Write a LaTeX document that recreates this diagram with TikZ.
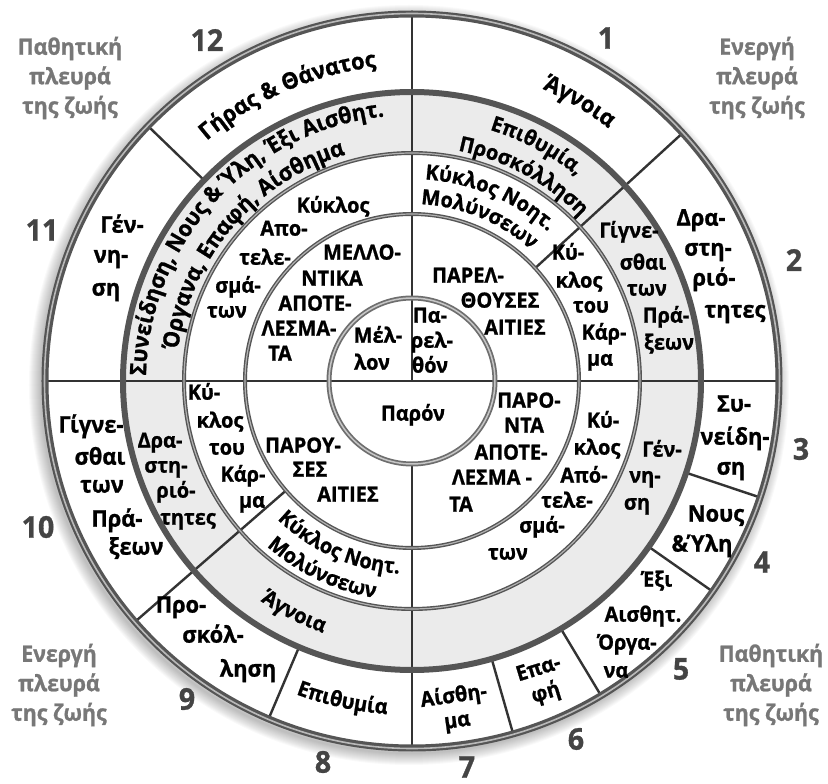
\documentclass[tikz,border=0pt]{standalone}
\usepackage{fontspec}
\setmainfont{Open Sans}[FakeStretch=0.95,BoldFeatures={FakeBold=1}]
\usetikzlibrary{decorations.text}
\definecolor{band}{HTML}{EBEBEB}
\definecolor{ringc}{HTML}{555555}
\definecolor{numc}{HTML}{444444}
\definecolor{sidec}{HTML}{777777}
\definecolor{linec}{HTML}{333333}
\newcommand\fS{\bfseries\fontsize{21}{25}\selectfont}
\newcommand\fM{\bfseries\fontsize{22.5}{26}\selectfont}
\newcommand\fL{\bfseries\fontsize{23}{27}\selectfont}
\newcounter{tlc}
\newcommand\Tline[4][txt]{\stepcounter{tlc}\node[#1] (tl\arabic{tlc}) at (#2,#3) {#4};}
% curved text, upper half (clockwise): center angle, baseline radius, font, text
\newcommand\Cup[4]{\path[decorate,decoration={text along path,text={|#3|#4},text align=center}]
  ({#1+60}:#2) arc[start angle={#1+60},end angle={#1-60},radius=#2];}
% curved text, lower half (counter-clockwise)
\newcommand\Cdn[4]{\path[decorate,decoration={text along path,text={|#3|#4},text align=center}]
  ({#1-60}:#2) arc[start angle={#1-60},end angle={#1+60},radius=#2];}
\begin{document}
\begin{tikzpicture}[x=1pt,y=1pt,
  txt/.style={font=\fS,anchor=mid,inner sep=0pt},
  txtL/.style={font=\fL,anchor=mid,inner sep=0pt},
  num/.style={font=\bfseries\fontsize{30}{30}\selectfont,text=numc,inner sep=0pt},
  side/.style={font=\bfseries\fontsize{22.5}{29.5}\selectfont,text=sidec,align=center,inner sep=0pt},
  radial/.style={line width=2.4pt,draw=linec},
  ring/.style={line width=4pt,draw=ringc}]
\useasboundingbox (-412,-403) rectangle (416,381);
% shadow
\foreach \i in {1,...,12}{\draw[black,opacity=0.022,line width=2*\i pt] (-3,-4) circle (368);}
\fill[white] (0,0) circle (368);
% grey band
\fill[band,even odd rule] (0,0) circle (289) (0,0) circle (228);
% radial lines
\coordinate (c) at (0,0);
\draw[radial] (-367,0) -- (367,0);
\draw[radial] (0,367) -- (c);
\draw[radial] (0,-83) -- (0,-367);
\draw[radial] (42.5:167) -- (42.5:367);
\draw[radial] (221:167) -- (221:367);
\foreach \a in {136,247,286,301,325,341.5}{\draw[radial] (\a:289) -- (\a:367);}
% circles
\draw[line width=7pt,draw=ringc] (c) circle (367);
\draw[line width=1.6pt,draw=gray!55] (c) circle (367.5);
\draw[line width=6pt,draw=ringc] (c) circle (289);
\draw[ring] (c) circle (228);
\draw[line width=1.2pt,draw=gray!60] (c) circle (228);
\draw[ring] (c) circle (167);
\draw[line width=1.2pt,draw=gray!60] (c) circle (167);
\draw[line width=5pt,draw=ringc!85] (c) circle (83);
\draw[line width=1.5pt,draw=gray!45] (c) circle (83);
% curved texts
\Cup{59}{320}{\fL}{Άγνοια}
\Cup{62}{263}{\fS}{Επιθυμία,}
\Cup{61.5}{235}{\fS}{Προσκόλληση}
\Cup{67}{202}{\fS}{Κύκλος Νοητ.}
\Cup{67.5}{177}{\fS}{Μολύνσεων}
\Cup{113.5}{316}{\fL}{Γήρας {\&} Θάνατος}
\Cup{137.4}{266}{\fM}{Συνείδηση, Νους {\&} Ύλη, Έξι Αισθητ.}
\Cup{139.4}{236}{\fM}{Όργανα, Επαφή, Αίσθημα}
\Cdn{246}{193}{\fS}{Κύκλος Νοητ.}
\Cdn{244.5}{220}{\fS}{Μολύνσεων}
\Cdn{243}{267}{\fS}{Άγνοια}
\Cdn{257.7}{334}{\fS}{Επιθυμία}
% upper right
\Tline[txtL]{289}{158}{Δρα-}\Tline[txtL]{296}{128}{στη-}\Tline[txtL]{302}{98}{ριό-}\Tline[txtL]{323}{66}{τητες}
\Tline{217}{146}{Γίγνε-}\Tline{231}{114}{σθαι}\Tline{235}{88}{των}\Tline{254}{61}{Πρά-}\Tline{257}{34}{ξεων}
\Tline{156}{124}{Κύ-}\Tline{167}{96}{κλος}\Tline{179}{71}{του}\Tline{192}{44}{Κάρ-}\Tline{188}{18}{μα}
\Tline{56}{101}{ΠΑΡΕΛ-}\Tline{88}{76}{ΘΟΥΣΕΣ}\Tline{103}{49}{ΑΙΤΙΕΣ}
\Tline{18}{61}{Πα-}\Tline{20}{36}{ρελ-}\Tline{18}{11}{θόν}
% upper left
\Tline[txtL]{-290}{151}{Γέν-}\Tline[txtL]{-301}{121}{νη-}\Tline[txtL]{-306}{88}{ση}
\Tline{-79}{171}{Κύκλος}
\Tline{-128}{148}{Απο-}\Tline{-147}{119}{τελε-}\Tline{-174}{91}{σμά-}\Tline{-185}{66}{των}
\Tline{-50}{124}{ΜΕΛΛΟ-}\Tline{-80}{98}{ΝΤΙΚΑ}\Tline{-97}{73}{ΑΠΟΤΕ-}\Tline{-113}{48}{ΛΕΣΜΑ-}\Tline{-132}{23}{ΤΑ}
\Tline{-34}{41}{Μέλ-}\Tline{-40}{14}{λον}
% lower left
\Tline[txtL]{-321}{-49}{Γίγνε-}\Tline[txtL]{-312}{-81}{σθαι}\Tline[txtL]{-310}{-109}{των}\Tline[txtL]{-295}{-143}{Πρά-}\Tline[txtL]{-276}{-171}{ξεων}
\Tline{-252}{-64}{Δρα-}\Tline{-246}{-89}{στη-}\Tline{-236}{-114}{ριό-}\Tline{-224}{-141}{τητες}
\Tline{-208}{-16}{Κύ-}\Tline{-192}{-44}{κλος}\Tline{-185}{-71}{του}\Tline{-169}{-98}{Κάρ-}\Tline{-160}{-124}{μα}
\Tline{-109}{-69}{ΠΑΡΟΥ-}\Tline{-102}{-93}{ΣΕΣ}\Tline{-64}{-118}{ΑΙΤΙΕΣ}
\Tline[txtL]{-231}{-229}{Προ-}\Tline[txtL]{-199}{-259}{σκόλ-}\Tline[txtL]{-164}{-293}{ληση}
% lower right
\Tline{117}{-24}{ΠΑΡΟ-}\Tline{112}{-49}{ΝΤΑ}\Tline{99}{-76}{ΑΠΟΤΕ-}\Tline{80}{-101}{ΛΕΣΜΑ -}\Tline{49}{-128}{ΤΑ}
\Tline{191}{-44}{Κύ-}\Tline{185}{-71}{κλος}\Tline{172}{-99}{Από-}\Tline{155}{-124}{τελε-}\Tline{130}{-149}{σμά-}\Tline{96}{-176}{των}
\Tline{250}{-73}{Γέν-}\Tline{233}{-99}{νη-}\Tline{225}{-126}{ση}
\Tline[txtL]{322}{-28}{Συ-}\Tline[txtL]{323}{-61}{νείδη-}\Tline[txtL]{319}{-91}{ση}
\Tline[txtL]{304}{-138}{Νους}\Tline[txtL]{290}{-168}{\&Ύλη}
\Tline{245}{-203}{Έξι}\Tline{231}{-238}{Αισθητ.}\Tline{215}{-266}{Όργα-}\Tline{204}{-294}{να}
\node[font=\fS,align=center,rotate=17,inner sep=0pt] (epafi) at (130.5,-301) {Επα-\\φή};
\node[font=\fS,align=center,rotate=8,inner sep=0pt] (aisth) at (43.5,-328) {Αίσθη-\\μα};
\Tline{1}{-37}{Παρόν}
% numbers
\node[num] (n1) at (194,343) {1};
\node[num] (n2) at (382,121) {2};
\node[num] (n3) at (389,-68) {3};
\node[num] (n4) at (350,-181) {4};
\node[num] (n5) at (269,-288) {5};
\node[num] (n6) at (164,-358) {6};
\node[num] (n7) at (55,-386) {7};
\node[num] (n8) at (-89,-381) {8};
\node[num] (n9) at (-225,-318) {9};
\node[num] (n10) at (-374,-146) {10};
\node[num] (n11) at (-370,151) {11};
\node[num] (n12) at (-205,341) {12};
% side labels
\node[side] (s1) at (-342,303) {Παθητική\\πλευρά\\της ζωής};
\node[side] (s2) at (345,303) {Ενεργή\\πλευρά\\της ζωής};
\node[side] (s3) at (-353,-304) {Ενεργή\\πλευρά\\της ζωής};
\node[side] (s4) at (359,-304) {Παθητική\\πλευρά\\της ζωής};
\end{tikzpicture}
\end{document}
